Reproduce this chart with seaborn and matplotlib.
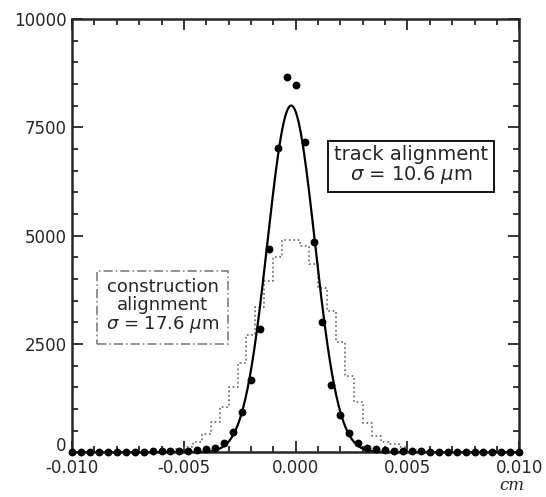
import numpy as np
import pandas as pd
import matplotlib
matplotlib.use("Agg")
import matplotlib.pyplot as plt
import matplotlib.transforms as mtransforms
import seaborn as sns
from matplotlib.ticker import MultipleLocator

# bin centres (cm), 0.0004 cm wide bins
bin_centres = np.round(np.arange(-0.010, 0.0100001, 0.0004), 5)

# track alignment residuals (dots)
track_counts = [10, 10, 10, 10, 10, 10, 15, 15, 15, 20,
                20, 25, 30, 40, 50, 70, 100, 210, 460, 920,
                1660, 2840, 4690, 7020, 8660, 8480, 7160, 4850, 3000, 1550,
                850, 440, 210, 110, 70, 50, 40, 30, 25, 20,
                15, 15, 15, 10, 10, 10, 10, 10, 10, 10, 10]

# construction alignment residuals (dotted histogram)
construction_counts = [0, 0, 0, 0, 0, 0, 0, 5, 10, 15,
                       20, 40, 80, 130, 230, 420, 700, 1050, 1500, 2050,
                       2700, 3350, 3950, 4500, 4900, 4900, 4750, 4350, 3800, 3250,
                       2550, 1750, 1150, 680, 380, 240, 200, 120, 60, 30,
                       15, 10, 5, 0, 0, 0, 0, 0, 0, 0, 0]

# gaussian fit to the track alignment
fit_amplitude = 8000
fit_mean = -0.0002
fit_sigma = 10.6e-4  # 10.6 um in cm

x_ticks = [-0.010, -0.005, 0.000, 0.005, 0.010]
x_tick_labels = ["-0.010", "-0.005", "0.000", "0.005", "0.010"]
y_ticks = [0, 2500, 5000, 7500, 10000]

sns.set_style("ticks")
plt.rcParams["font.family"] = ["DejaVu Sans"]

fig = plt.figure(figsize=(5.46, 4.97), dpi=100)
ax = fig.add_axes([0.132, 0.090, 0.819, 0.872])

bin_width = 0.0004
edges = list(np.append(bin_centres - bin_width / 2, bin_centres[-1] + bin_width / 2))
hist_df = pd.DataFrame({"x": bin_centres, "w": construction_counts})
sns.histplot(data=hist_df, x="x", weights="w", bins=edges,
             element="step", fill=False, color="0.4", linestyle=":",
             linewidth=1.2, ax=ax)

xs = np.linspace(-0.010, 0.010, 801)
fit = pd.DataFrame({"x": xs,
                    "y": fit_amplitude * np.exp(-0.5 * ((xs - fit_mean) / fit_sigma) ** 2)})
sns.lineplot(data=fit, x="x", y="y", color="black", linewidth=1.6, ax=ax)

sns.scatterplot(x=bin_centres, y=track_counts, color="black", s=32,
                edgecolor="black", linewidth=0, zorder=5, ax=ax, clip_on=False)

ax.set_xlim(-0.010, 0.010)
ax.set_ylim(0, 10000)
ax.set_xticks(x_ticks)
ax.set_xticklabels(x_tick_labels)
ax.set_yticks(y_ticks)
ax.xaxis.set_minor_locator(MultipleLocator(0.001))
ax.yaxis.set_minor_locator(MultipleLocator(500))
ax.tick_params(which="both", direction="in", top=True, right=True,
               labelsize=12, width=1.3, pad=5)
ax.tick_params(which="major", length=8)
ax.tick_params(which="minor", length=4)
ax.tick_params(axis="y", pad=4)
ax.set_xlabel("")
ax.set_ylabel("")
for s in ax.spines.values():
    s.set_visible(True)
    s.set_linewidth(1.8)

# lift the y "0" a little so it clears the x tick label, as in the original
zero_label = ax.yaxis.get_major_ticks()[0].label1
zero_label.set_transform(zero_label.get_transform()
                         + mtransforms.ScaledTranslation(0, 6 / 72, fig.dpi_scale_trans))

ax.text(0.00515, 6620, "track alignment\n$\\sigma$ = 10.6 $\\mu$m",
        ha="center", va="center", fontsize=14, linespacing=1.0,
        bbox=dict(boxstyle="square,pad=0.3", fc="white", ec="black", lw=1.3))
ax.text(-0.00595, 3360, "construction\nalignment\n$\\sigma$ = 17.6 $\\mu$m",
        ha="center", va="center", fontsize=13, linespacing=1.0,
        bbox=dict(boxstyle="square,pad=0.5", fc="white", ec="0.45", lw=1.1,
                  ls=(0, (6, 2, 1, 2))))

fig.text(0.915, 0.015, "cm", fontsize=12, style="italic", family="DejaVu Serif")

fig.savefig("out.png", dpi=100)
